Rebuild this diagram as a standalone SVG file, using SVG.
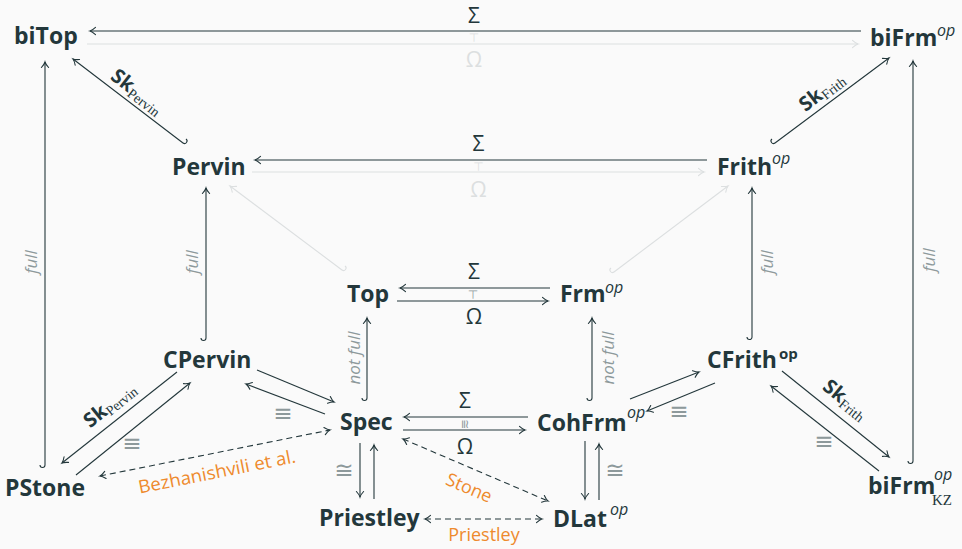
<svg xmlns="http://www.w3.org/2000/svg" width="962" height="549" viewBox="0 0 962 549">
  <style>
    .node { font-family: "Open Sans", "DejaVu Sans", sans-serif; font-weight: 700; font-size: 23px; fill: #23373b; }
    .sup { font-family: "Open Sans", "DejaVu Sans", sans-serif; font-style: italic; font-weight: 400; font-size: 16px; fill: #23373b; }
    .supb { font-family: "Open Sans", "DejaVu Sans", sans-serif; font-weight: 700; font-size: 15px; fill: #23373b; }
    .sub { font-family: "Liberation Serif", "DejaVu Serif", serif; font-size: 15px; fill: #23373b; }
    .ln { stroke: #23373b; stroke-width: 1.1; fill: none; }
    .fl { stroke: #dcdfe0; stroke-width: 1.1; fill: none; }
    .dash { stroke-dasharray: 6 4; }
    .to { marker-end: url(#ah); }
    .both { marker-start: url(#ah); marker-end: url(#ah); }
    .tof { marker-end: url(#ahf); }
    .math { font-family: "Open Sans", "DejaVu Sans", sans-serif; font-size: 21px; fill: #23373b; text-anchor: middle; }
    .sym { font-family: "DejaVu Sans", sans-serif; text-anchor: middle; }
    .rel { font-family: "DejaVu Sans", sans-serif; text-anchor: middle; font-size: 23px; fill: #8d999b; }
    .faint { fill: #dcdfe0; }
    .gray { fill: #8d999b; }
    .note { font-family: "Open Sans", "DejaVu Sans", sans-serif; font-style: italic; font-size: 17px; fill: #8d999b; text-anchor: middle; }
    .sk { font-family: "Open Sans", "DejaVu Sans", sans-serif; font-weight: 700; font-size: 20px; fill: #23373b; }
    .skn { font-family: "Liberation Serif", "DejaVu Serif", serif; font-weight: 400; font-size: 14px; }
    .orange { font-family: "Open Sans", "DejaVu Sans", sans-serif; font-size: 18px; fill: #ee8a2d; text-anchor: middle; }
  </style>
  <defs>
    <marker id="ah" markerUnits="userSpaceOnUse" markerWidth="12" markerHeight="12" viewBox="-8 -6 10 12" refX="0" refY="0" orient="auto-start-reverse" overflow="visible">
      <path d="M-5.5,-3.6 Q-2.2,-0.6 0,0 Q-2.2,0.6 -5.5,3.6" fill="none" stroke="#23373b" stroke-width="1.1" stroke-linecap="round"/>
    </marker>
    <marker id="ahf" markerUnits="userSpaceOnUse" markerWidth="12" markerHeight="12" viewBox="-8 -6 10 12" refX="0" refY="0" orient="auto" overflow="visible">
      <path d="M-5.5,-3.6 Q-2.2,-0.6 0,0 Q-2.2,0.6 -5.5,3.6" fill="none" stroke="#dcdfe0" stroke-width="1.1" stroke-linecap="round"/>
    </marker>
  </defs>

  <rect width="962" height="549" fill="#fafafa"/>

  <g id="connectors">
    <!-- bi-spaces / bi-frames -->
    <path class="ln to" d="M861,31 L90,31"/>
    <path class="fl tof" d="M87,44 L858,44"/>
    <text class="math" x="474" y="23">Σ</text>
    <text class="sym faint" x="474" y="42" font-size="12">⊤</text>
    <text class="math faint" x="474" y="67">Ω</text>

    <!-- Pervin / Frith -->
    <path class="ln to" d="M707,160 L255,160"/>
    <path class="fl tof" d="M252,172 L704,172"/>
    <text class="math" x="478.5" y="151">Σ</text>
    <text class="sym faint" x="478.5" y="171" font-size="12">⊤</text>
    <text class="math faint" x="478.5" y="197">Ω</text>

    <!-- Top / Frm -->
    <path class="ln to" d="M550,288 L400,288"/>
    <path class="ln to" d="M397,301 L548,301"/>
    <text class="math" x="474" y="279">Σ</text>
    <text class="sym gray" x="473" y="299" font-size="12">⊤</text>
    <text class="math" x="474" y="324">Ω</text>

    <!-- Spec / CohFrm -->
    <path class="ln to" d="M528,417 L404,417"/>
    <path class="ln to" d="M403,430 L525,430"/>
    <text class="math" x="465" y="408">Σ</text>
    <text class="sym gray" font-size="12" transform="translate(465,424) rotate(90)" y="4">≅</text>
    <text class="math" x="465" y="454">Ω</text>

    <!-- Spec / Priestley -->
    <path class="ln to" d="M360,443 L360,497"/>
    <path class="ln to" d="M374,499 L374,445"/>
    <text class="rel" x="344" y="478">≅</text>

    <!-- CohFrm / DLat -->
    <path class="ln to" d="M585,441 L585,499"/>
    <path class="ln to" d="M599,500 L599,444"/>
    <text class="rel" x="615" y="478">≅</text>

    <!-- dashed dualities -->
    <path class="ln dash both" d="M403,439 L548,501"/>
    <text class="orange" transform="translate(469,488) rotate(23.2)" y="6">Stone</text>
    <path class="ln dash both" d="M425,519 L542,519"/>
    <text class="orange" x="484" y="541">Priestley</text>
    <path class="ln dash both" d="M100,476 L330,430"/>
    <text class="orange" transform="translate(217,472) rotate(-11.3)" y="6" textLength="160" lengthAdjust="spacingAndGlyphs">Bezhanishvili et al.</text>

    <!-- CPervin / Spec -->
    <path class="ln to" d="M257,370 L334,402"/>
    <path class="ln to" d="M325,414 L246,384"/>
    <text class="rel" x="283" y="421">≡</text>

    <!-- CPervin / PStone -->
    <path class="ln to" d="M177,372 L62,463"/>
    <path class="ln to" d="M76,475 L190,383"/>
    <text class="sk" transform="translate(110,405) rotate(-38.6)" y="6" text-anchor="middle">Sk<tspan class="skn" dy="3">Pervin</tspan></text>
    <text class="rel" x="132" y="451">≡</text>

    <!-- CohFrm / CFrith -->
    <path class="ln to" d="M630,399 L699,372"/>
    <path class="ln to" d="M715,383 L647,411"/>
    <text class="rel" x="679" y="419">≡</text>

    <!-- CFrith / biFrm KZ -->
    <path class="ln to" d="M782,371 L889,457"/>
    <path class="ln to" d="M879,471 L771,386"/>
    <text class="sk" transform="translate(845,400) rotate(38.8)" y="6" text-anchor="middle">Sk<tspan class="skn" dy="3">Frith</tspan></text>
    <text class="rel" x="824" y="449">≡</text>

    <!-- inclusions (hooked tails) -->
    <path class="ln to" d="M40,465 A2.5,2.5 0 0 0 45,465 L45,62"/>
    <text class="note" transform="translate(37,262) rotate(-90)">full</text>
    <path class="ln to" d="M201,338 A2.5,2.5 0 0 0 206,338 L206,188"/>
    <text class="note" transform="translate(198,262) rotate(-90)">full</text>
    <path class="ln to" d="M747,337 A2.5,2.5 0 0 0 752,337 L752,188"/>
    <text class="note" transform="translate(773,262) rotate(-90)">full</text>
    <path class="ln to" d="M908,461 A2.5,2.5 0 0 0 913,461 L913,61"/>
    <text class="note" transform="translate(935,260) rotate(-90)">full</text>
    <path class="ln to" d="M362,398 A2.5,2.5 0 0 0 367,398 L367,318"/>
    <text class="note" transform="translate(360,358) rotate(-90)">not full</text>
    <path class="ln to" d="M587,398 A2.5,2.5 0 0 0 592,398 L592,318"/>
    <text class="note" transform="translate(614,358) rotate(-90)">not full</text>

    <path class="ln to" d="M186,139 A2.5,2.5 0 0 1 183,143 L73,59"/>
    <text class="sk" transform="translate(137,92) rotate(37.5)" y="6" text-anchor="middle">Sk<tspan class="skn" dy="3">Pervin</tspan></text>
    <path class="ln to" d="M772,139 A2.5,2.5 0 0 0 775,143 L889,58"/>
    <text class="sk" transform="translate(822,92) rotate(-37.4)" y="6" text-anchor="middle">Sk<tspan class="skn" dy="3">Frith</tspan></text>

    <path class="fl tof" d="M345,266 A2.5,2.5 0 0 1 342,270 L230,186"/>
    <path class="fl tof" d="M611,268 A2.5,2.5 0 0 0 614,272 L728,186"/>
  </g>

  <g id="nodes">
    <g id="node-biTop"><text class="node" x="14" y="44">biTop</text></g>
    <g id="node-biFrm"><text class="node" x="870" y="46">biFrm</text><text class="sup" x="937" y="36">op</text></g>
    <g id="node-Pervin"><text class="node" x="172" y="175">Pervin</text></g>
    <g id="node-Frith"><text class="node" x="717" y="175">Frith</text><text class="sup" x="772" y="164">op</text></g>
    <g id="node-Top"><text class="node" x="347" y="302">Top</text></g>
    <g id="node-Frm"><text class="node" x="560" y="302">Frm</text><text class="sup" x="605" y="293">op</text></g>
    <g id="node-CPervin"><text class="node" x="163" y="368">CPervin</text></g>
    <g id="node-CFrith"><text class="node" x="707" y="368">CFrith</text><text class="supb" x="779" y="359">op</text></g>
    <g id="node-Spec"><text class="node" x="340" y="430">Spec</text></g>
    <g id="node-CohFrm"><text class="node" x="537" y="431">CohFrm</text><text class="sup" x="627" y="418">op</text></g>
    <g id="node-PStone"><text class="node" x="5" y="496">PStone</text></g>
    <g id="node-biFrmKZ"><text class="node" x="868" y="494">biFrm</text><text class="sup" x="934" y="480">op</text><text class="sub" x="932" y="505">KZ</text></g>
    <g id="node-Priestley"><text class="node" x="319" y="526">Priestley</text></g>
    <g id="node-DLat"><text class="node" x="553" y="527">DLat</text><text class="sup" x="610" y="515">op</text></g>
  </g>
</svg>
